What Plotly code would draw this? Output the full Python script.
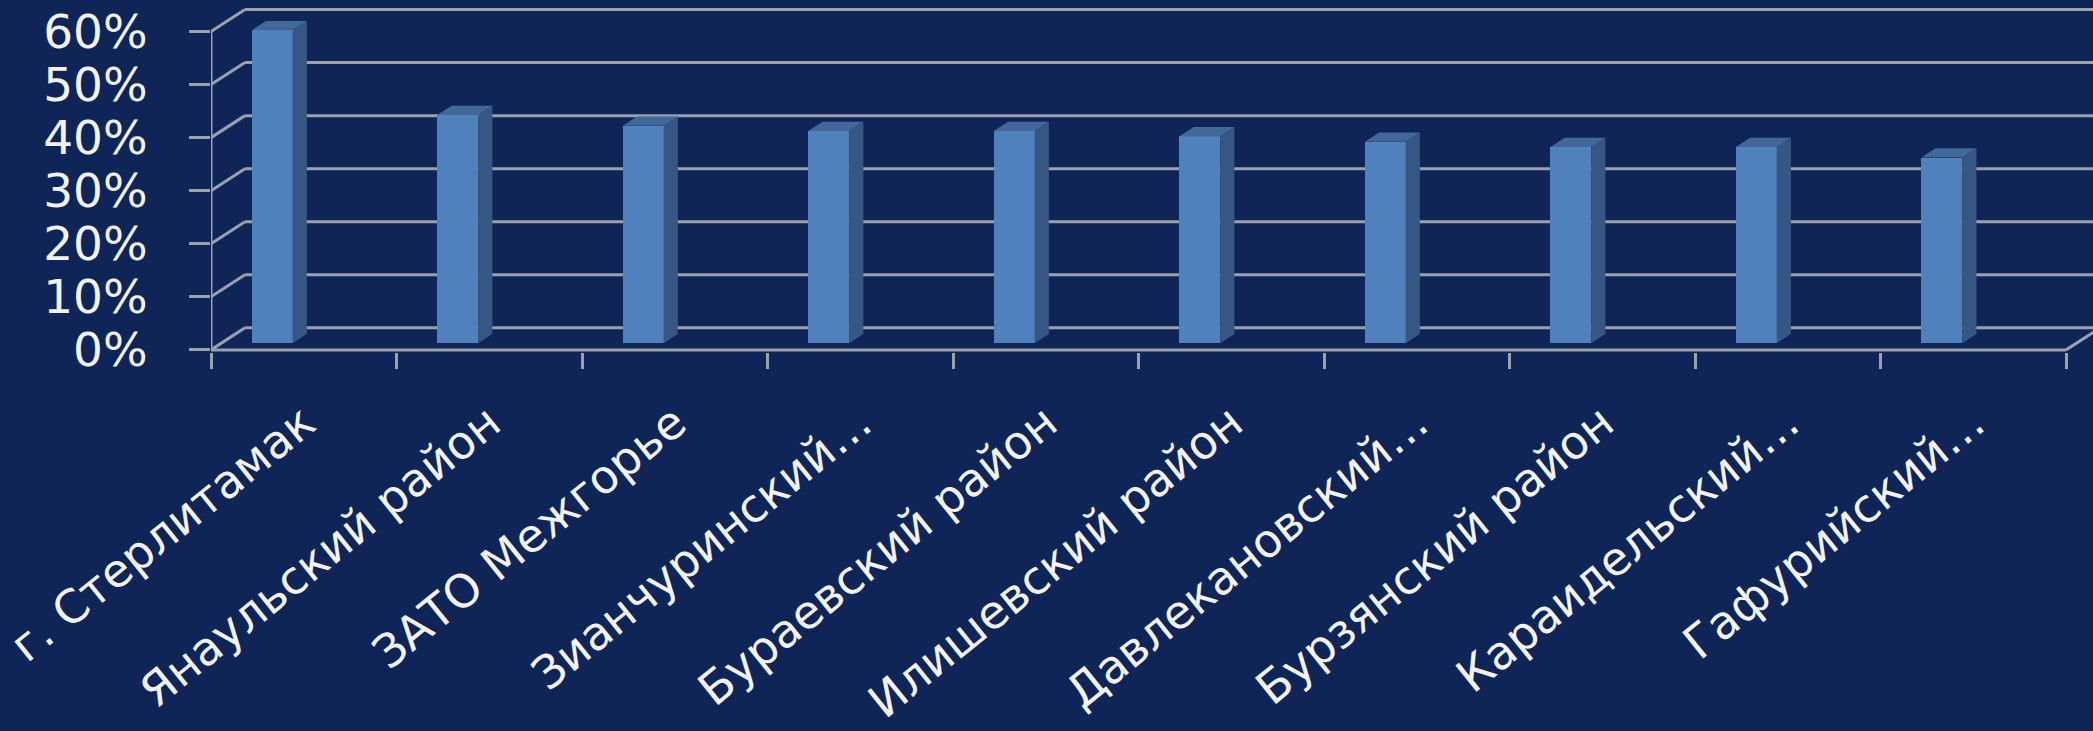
import plotly.graph_objects as go

categories = ["г. Стерлитамак", "Янаульский район", "ЗАТО Межгорье", "Зианчуринский…",
              "Бураевский район", "Илишевский район", "Давлекановский…", "Бурзянский район",
              "Караидельский…", "Гафурийский…"]
values = [59, 43, 41, 40, 40, 39, 38, 37, 37, 35]
y_ticks = [0, 10, 20, 30, 40, 50, 60]
y_ticktext = ["0%", "10%", "20%", "30%", "40%", "50%", "60%"]

# style / projection parameters
BG = "#0f2557"
GRID = "#9aa0ae"
TXT = "#f2f2f2"
FRONT = "#4f81bd"
SIDE = "#365684"
TOP = "#42689a"
DX = 0.183      # depth offset in x units
DY = 4.15       # depth offset in y units (%)
F0, F1 = 0.30, 0.72   # bar depth range (fraction)
BOFF, BW = 0.165, 0.22  # bar left offset in category, bar width
XMAX = 10.145
n = len(categories)

fig = go.Figure()

# front faces
lefts = [i + BOFF + F0 * DX for i in range(n)]
fig.add_trace(go.Bar(
    x=[l + BW / 2 for l in lefts], y=values, base=[F0 * DY] * n, width=BW,
    marker=dict(color=FRONT, line=dict(width=0)), showlegend=False, hoverinfo="skip"))

# side faces and top faces
ddx = (F1 - F0) * DX
ddy = (F1 - F0) * DY
sx, sy, tx, ty = [], [], [], []
for l, v in zip(lefts, values):
    b = F0 * DY
    r = l + BW
    sx += [r, r + ddx, r + ddx, r, r, None]
    sy += [b, b + ddy, b + v + ddy, b + v, b, None]
    tx += [l, r, r + ddx, l + ddx, l, None]
    ty += [b + v, b + v, b + v + ddy, b + v + ddy, b + v, None]
fig.add_trace(go.Scatter(x=sx, y=sy, fill="toself", fillcolor=SIDE, mode="lines",
                         line=dict(width=0), showlegend=False, hoverinfo="skip"))
fig.add_trace(go.Scatter(x=tx, y=ty, fill="toself", fillcolor=TOP, mode="lines",
                         line=dict(width=0), showlegend=False, hoverinfo="skip"))

shapes = []
lw = 3
for v in y_ticks:
    shapes.append(dict(type="line", x0=DX, y0=v + DY, x1=XMAX + 1, y1=v + DY,
                       line=dict(color=GRID, width=lw), layer="below"))
    shapes.append(dict(type="line", x0=0, y0=v, x1=DX, y1=v + DY,
                       line=dict(color=GRID, width=lw), layer="below"))
shapes.append(dict(type="line", x0=0, y0=0, x1=n, y1=0, line=dict(color=GRID, width=lw), layer="below"))
shapes.append(dict(type="line", x0=n, y0=0, x1=n + DX, y1=DY, line=dict(color=GRID, width=lw), layer="below"))
shapes.append(dict(type="line", x0=0, y0=0, x1=0, y1=max(y_ticks), line=dict(color=GRID, width=lw), layer="below"))

fig.update_layout(
    width=2093, height=731,
    margin=dict(l=208, r=0, t=5, b=379),
    paper_bgcolor=BG, plot_bgcolor=BG,
    shapes=shapes,
    bargap=0,
    font=dict(family="DejaVu Sans", color=TXT),
)
fig.update_xaxes(
    range=[0, XMAX], showgrid=False, zeroline=False, showline=False,
    tickmode="array", tickvals=[i + 0.5 for i in range(n)], ticktext=categories,
    ticks="", tickangle=-39, tickfont=dict(size=46, color=TXT, family="DejaVu Sans"),
    ticklabelstandoff=34, ticklabeloverflow="allow",
    minor=dict(tickmode="array", tickvals=list(range(n + 1)), ticks="outside",
               ticklen=16, tickwidth=lw, tickcolor=GRID),
)
fig.update_yaxes(
    range=[-0.4, 65], showgrid=False, zeroline=False, showline=False,
    tickmode="array", tickvals=y_ticks, ticktext=y_ticktext,
    ticks="outside", ticklen=21, tickwidth=lw, tickcolor=GRID,
    tickfont=dict(size=47, color=TXT, family="DejaVu Sans"),
    ticklabelstandoff=32, ticklabeloverflow="allow",
)

fig.write_html("out.html",
               config={"displayModeBar": False},
               post_script="document.body.style.margin='0';document.body.style.overflow='hidden';document.body.style.background='" + BG + "';")
